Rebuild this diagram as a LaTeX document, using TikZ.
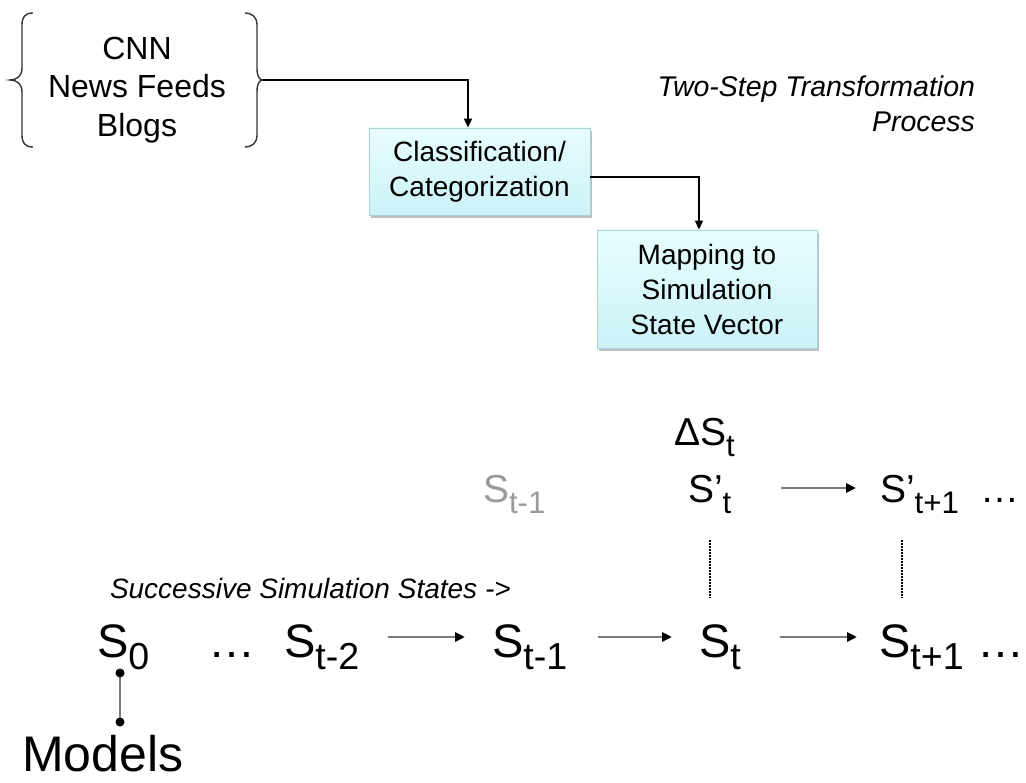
\documentclass[tikz,border=0pt]{standalone}
\usepackage{fontspec}
\usepackage{graphicx}
\setmainfont{Liberation Sans}
\usetikzlibrary{arrows.meta,shadows}

\definecolor{boxtop}{HTML}{E8FDFD}
\definecolor{boxbot}{HTML}{CBF2F7}
\definecolor{boxline}{HTML}{A9D3DB}
\definecolor{flowgray}{HTML}{7C7C7C}
\definecolor{ghost}{HTML}{9A9A9A}
\definecolor{inkgray}{HTML}{333333}

% font size in px-sized points
\newcommand{\fsz}[2]{\fontsize{#1}{#2}\selectfont}
% lowered, reduced subscript
\newcommand{\lowsub}[1]{\raisebox{-0.26em}{\scalebox{0.8}{#1}}}

\begin{document}
\begin{tikzpicture}[x=1pt,y=-1pt,
  txt/.style={inner sep=0pt,outer sep=0pt},
  stepbox/.style={draw=boxline,line width=0.8pt,top color=boxtop,bottom color=boxbot,
    align=center,inner sep=0pt,font=\fsz{28}{35},
    drop shadow={shadow xshift=2pt,shadow yshift=-3pt,fill=black,opacity=0.25}},
  link/.style={draw=black,line width=1.5pt,-{Triangle[length=9pt,width=8pt]}},
  flow/.style={draw=flowgray,line width=2.8pt,-{Triangle[length=10pt,width=9pt,color=black]}},
  bracepath/.style={draw=inkgray,line width=1.4pt},
  tie/.style={draw=flowgray,line width=2.4pt},
  dotline/.style={draw=black,line width=1.6pt,dash pattern=on 1.6pt off 1.4pt},
  bigS/.style={txt,anchor=base west,font=\fsz{47}{50}},
  midS/.style={txt,anchor=base west,font=\fsz{39}{42}}]

\useasboundingbox (0,0) rectangle (1026,783);

% sources in braces
\node[txt,anchor=north,align=center,font=\fsz{32}{38.5}] (src) at (137,37)
  {CNN\\News Feeds\\Blogs};
\draw[bracepath] (33,13) .. controls (25,13) and (22,17) .. (22,25) -- (22,68)
  .. controls (22,76) and (17,80) .. (10,80)
  .. controls (17,80) and (22,84) .. (22,92) -- (22,135)
  .. controls (22,143) and (25,147) .. (33,147);
\draw[bracepath] (245,13) .. controls (252,13) and (257,17) .. (257,25) -- (257,68)
  .. controls (257,76) and (259,80) .. (263,80)
  .. controls (259,80) and (257,84) .. (257,92) -- (257,135)
  .. controls (257,143) and (252,147) .. (245,147);
\coordinate (srcR) at (263,80);

% transformation steps
\node[stepbox,minimum width=221pt,minimum height=87pt] (cls) at (479.5,171.5)
  {Classification/\\Categorization};
\node[stepbox,minimum width=220pt,minimum height=118pt] (map) at (707,289)
  {Mapping to\\Simulation\\State Vector};

\draw[link] (srcR) -| ([xshift=-11.5pt]cls.north);
\draw[link] ([yshift=-5.5pt]cls.east) -| ([xshift=-8pt]map.north);

\node[txt,anchor=north east,align=right,font=\itshape\fsz{28.5}{35}] (title) at (975,76)
  {Two-Step Transformation\\Process};

% state chain
\node[txt,anchor=base west,font=\fsz{39}{42}] (dst) at (674,446) {ΔS\lowsub{t}};

\node[midS,text=ghost] (ghost) at (483,503) {S\lowsub{t-1}};
\node[midS] (spt) at (688,503) {S’\lowsub{t}};
\node[midS] (sptp1) at (880,503) {S’\lowsub{t+1}};
\node[txt,anchor=base,font=\fsz{39}{42}] (dots3) at (1000,503) {…};

\node[txt,anchor=base west,font=\itshape\fsz{28}{30}] (succ) at (110,598)
  {Successive Simulation States ->};

\node[bigS] (s0) at (97,657) {S\lowsub{0}};
\node[txt,anchor=base,font=\fsz{47}{50}] (dots1) at (232,657) {…};
\node[bigS] (stm2) at (284,657) {S\lowsub{t-2}};
\node[bigS] (stm1) at (492,657) {S\lowsub{t-1}};
\node[bigS] (st) at (699,657) {S\lowsub{t}};
\node[bigS] (stp1) at (879,657) {S\lowsub{t+1}};
\node[txt,anchor=base,font=\fsz{47}{50}] (dots2) at (1001,657) {…};

\node[txt,anchor=base west,font=\fsz{50}{53}] (models) at (22,771) {Models};

% transitions
\draw[flow] ([shift={(104,-20)}]stm2.base west) -- ([shift={(-27,-20)}]stm1.base west);
\draw[flow] ([shift={(106,-20)}]stm1.base west) -- ([shift={(-27,-20)}]st.base west);
\draw[flow] ([shift={(81,-20)}]st.base west) -- ([shift={(-22,-20)}]stp1.base west);
\draw[flow] ([shift={(93,-15)}]spt.base west) -- ([shift={(-24,-15)}]sptp1.base west);

% correspondence between adjusted and original states
\draw[dotline] ([shift={(22,37)}]spt.base west) -- ([shift={(11,-59)}]st.base west);
\draw[dotline] ([shift={(22,37)}]sptp1.base west) -- ([shift={(23,-59)}]stp1.base west);

% initial state tied to the models
\draw[tie] ([shift={(23,16)}]s0.base west) -- ([shift={(98,-49)}]models.base west);
\fill ([shift={(23,16)}]s0.base west) circle (4.5);
\fill ([shift={(98,-49)}]models.base west) circle (4.5);

\end{tikzpicture}
\end{document}
